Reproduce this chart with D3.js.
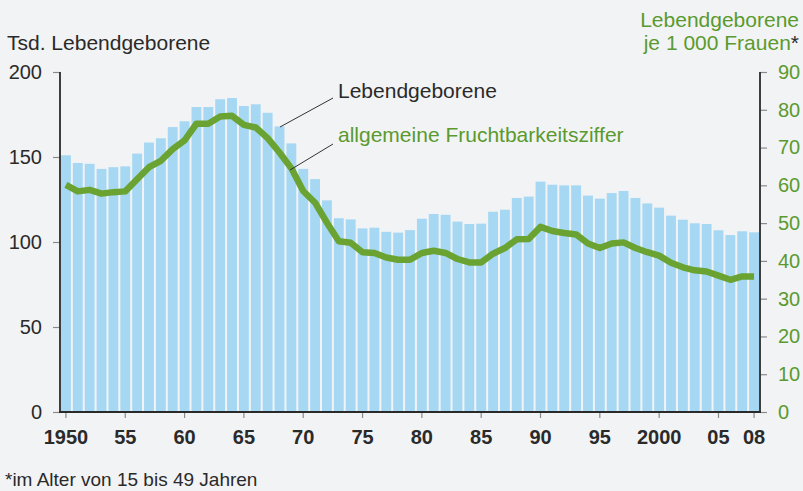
<!DOCTYPE html>
<html><head><meta charset="utf-8">
<script src="https://cdn.jsdelivr.net/npm/d3@7"></script>
<style>
html,body{margin:0;padding:0;background:#f2f3f5;}
svg{display:block;font-family:"Liberation Sans",Arial,Helvetica,sans-serif;}
</style></head>
<body>
<svg id="c" width="803" height="491"></svg>
<script>
const years = d3.range(1950, 2009);
const births = [151,146.5,146,143,144,144.5,152,158.5,161,167.6,171,179.4,179.4,184,184.7,180,181,176,168,158,
  143,137,124.5,114,113.3,108,108.4,106,105.5,107,113.7,116.5,116,112,110.6,110.8,117.8,119,125.9,126.7,
  135.5,133.7,133.3,133.3,127.3,125.5,128.8,130,125.9,122.7,120.2,115.5,113.1,111,110.6,106.9,104.1,106.3,105.7];
const fertility = [60.1,58.4,58.8,57.8,58.2,58.4,61.6,64.8,66.5,69.6,71.9,76.3,76.3,78.2,78.4,76,75.3,72.5,68.7,64.5,
  58.5,55.4,50.1,45.2,44.8,42.3,42.1,40.9,40.3,40.3,42.1,42.7,42.1,40.5,39.6,39.6,41.9,43.4,45.7,45.8,
  49,47.9,47.4,47,44.6,43.4,44.6,44.9,43.4,42.3,41.4,39.5,38.3,37.5,37.2,36.1,35,35.9,35.9];
const xTickYears = [1950,1955,1960,1965,1970,1975,1980,1985,1990,1995,2000,2005,2008];
const xTickLabels = ["1950","55","60","65","70","75","80","85","90","95","2000","05","08"];
const leftTicks = [0,50,100,150,200];
const rightTicks = [0,10,20,30,40,50,60,70,80,90];

const svg = d3.select("#c");
const L = 60, R = 760, T = 72, B = 412;
const green = "#6aa332", greenText = "#5a9a2e", blue = "#a6d8f3", dark = "#2a2a2a", gray = "#8a8a8a";

const x = d3.scaleBand().domain(years).range([L, R]).padding(0);
const yL = d3.scaleLinear().domain([0, 200]).range([B, T]);
const yR = d3.scaleLinear().domain([0, 90]).range([B, T]);
const bw = x.bandwidth();

// bars
svg.append("g").selectAll("rect").data(years).join("rect")
  .attr("x", d => x(d) + 1)
  .attr("width", bw - 2)
  .attr("y", (d, i) => yL(births[i]))
  .attr("height", (d, i) => B - yL(births[i]))
  .attr("fill", blue);

// line
const line = d3.line().x((d, i) => x(years[i]) + bw / 2).y(d => yR(d)).curve(d3.curveLinear);
svg.append("path").datum(fertility).attr("d", line)
  .attr("fill", "none").attr("stroke", green).attr("stroke-width", 6.5)
  .attr("stroke-linejoin", "round").attr("stroke-linecap", "butt");

// left axis
const gL = svg.append("g").attr("transform", `translate(${L},0)`)
  .call(d3.axisLeft(yL).tickValues(leftTicks).tickSize(7).tickPadding(11).tickFormat(d3.format("d")));
gL.select(".domain").remove();
gL.selectAll(".tick line").attr("stroke", gray).attr("stroke-width", 1.2);
gL.selectAll(".tick text").attr("fill", dark).attr("font-size", 20).attr("font-family", "Liberation Sans, Arial, sans-serif");
svg.append("line").attr("x1", L).attr("x2", L).attr("y1", T).attr("y2", B).attr("stroke", dark).attr("stroke-width", 1.8);

// right axis
const gR = svg.append("g").attr("transform", `translate(${R},0)`)
  .call(d3.axisRight(yR).tickValues(rightTicks).tickSize(7).tickPadding(11).tickFormat(d3.format("d")));
gR.select(".domain").remove();
gR.selectAll(".tick line").attr("stroke", gray).attr("stroke-width", 1.2);
gR.selectAll(".tick text").attr("fill", greenText).attr("font-size", 20).attr("font-family", "Liberation Sans, Arial, sans-serif");
svg.append("line").attr("x1", R).attr("x2", R).attr("y1", T).attr("y2", B).attr("stroke", dark).attr("stroke-width", 1.8);

// bottom axis
const gB = svg.append("g").attr("transform", `translate(0,${B})`)
  .call(d3.axisBottom(x).tickValues(xTickYears).tickSize(6).tickPadding(12)
    .tickFormat((d) => xTickLabels[xTickYears.indexOf(d)]));
gB.select(".domain").remove();
gB.selectAll(".tick line").attr("stroke", gray).attr("stroke-width", 1.2);
gB.selectAll(".tick text").attr("fill", dark).attr("font-size", 20).attr("font-weight", "bold")
  .attr("font-family", "Liberation Sans, Arial, sans-serif");
svg.append("line").attr("x1", L - 1).attr("x2", R + 1).attr("y1", B).attr("y2", B).attr("stroke", dark).attr("stroke-width", 2);

// titles
svg.append("text").attr("x", 7).attr("y", 50).attr("font-size", 21).attr("fill", dark).text("Tsd. Lebendgeborene");
svg.append("text").attr("x", 799).attr("y", 27).attr("font-size", 21).attr("fill", greenText)
  .attr("text-anchor", "end").text("Lebendgeborene");
const t2 = svg.append("text").attr("x", 799).attr("y", 50).attr("font-size", 21).attr("fill", greenText).attr("text-anchor", "end");
t2.append("tspan").text("je 1 000 Frauen");
t2.append("tspan").attr("fill", dark).text("*");

// annotations
svg.append("line").attr("x1", 333).attr("y1", 98).attr("x2", 280).attr("y2", 127).attr("stroke", "#333").attr("stroke-width", 1);
svg.append("text").attr("x", 338).attr("y", 98).attr("font-size", 21).attr("fill", dark).text("Lebendgeborene");
svg.append("line").attr("x1", 333).attr("y1", 144).attr("x2", 290).attr("y2", 170).attr("stroke", "#333").attr("stroke-width", 1);
svg.append("text").attr("x", 338).attr("y", 142).attr("font-size", 21).attr("fill", greenText).text("allgemeine Fruchtbarkeitsziffer");

// footnote
svg.append("text").attr("x", 5).attr("y", 486).attr("font-size", 19).attr("fill", dark).text("*im Alter von 15 bis 49 Jahren");
</script>
</body></html>
